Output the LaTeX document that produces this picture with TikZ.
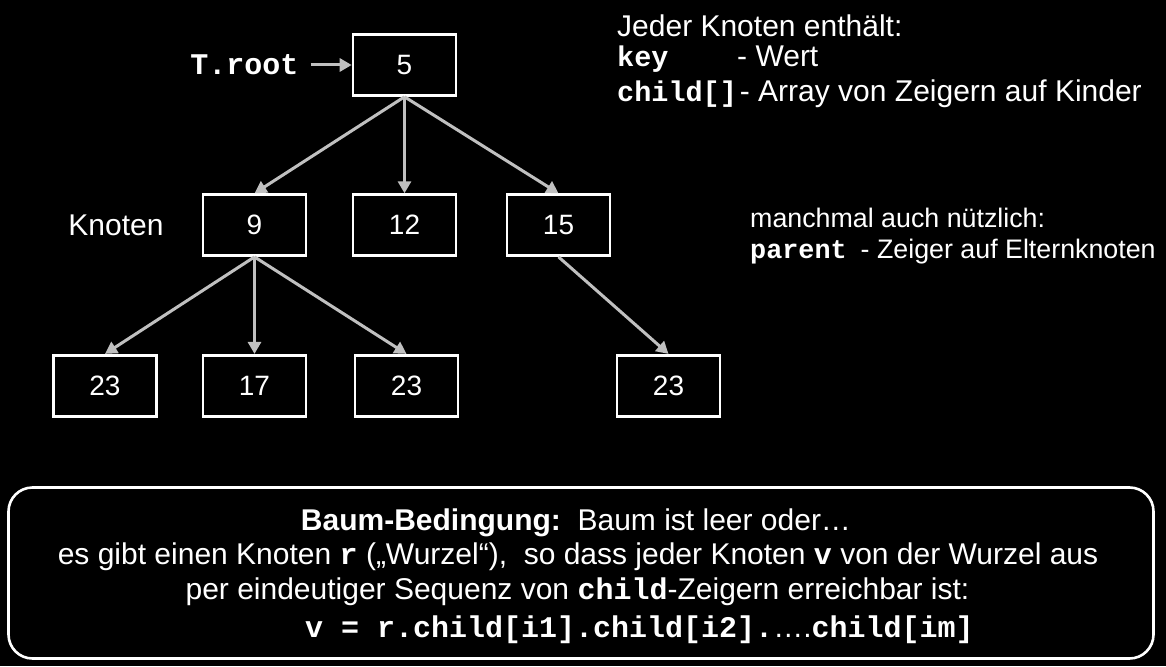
\documentclass[tikz,border=0pt]{standalone}
\usepackage{fontspec}
\setmainfont{Liberation Sans}
\setmonofont{Liberation Mono}
\usetikzlibrary{positioning,arrows.meta}

\definecolor{edgegray}{RGB}{192,192,192}
\newcommand{\code}[1]{\texttt{\bfseries #1}}

\begin{document}
\begin{tikzpicture}[
    x=1pt, y=-1pt,
    font=\fontsize{30}{36}\selectfont, text=white,
    key/.style={draw=white, line width=2.6pt, minimum width=103pt,
                minimum height=61pt, inner sep=0pt,
                font=\fontsize{28}{34}\selectfont},
    ptr/.style={draw=edgegray, line width=3pt,
                -{Triangle[length=12pt,width=13pt]}},
    note/.style={anchor=base west, inner sep=0pt},
    small/.style={note, font=\fontsize{26.8}{32}\selectfont},
    cond/.style={draw=white, line width=2.6pt, rounded corners=24pt},
  ]
  \useasboundingbox (0,0) rectangle (1166,666);
  \fill[black] (0,0) rectangle (1166,666);

  % ---------------------------------------------------------------
  % Tree of key boxes
  % ---------------------------------------------------------------
  \node[key] (k5) at (404.5,65) {5};
  \node[key, below=96.5pt of k5] (k12) {12};
  \node[key, below=96.5pt of k5, xshift=-150pt] (k9) {9};
  \node[key, below=96.5pt of k5, xshift=154pt] (k15) {15};
  \node[key, below=97pt of k9, xshift=-149.5pt] (k23a) {23};
  \node[key, below=97pt of k9] (k17) {17};
  \node[key, below=97pt of k9, xshift=152pt] (k23b) {23};
  \node[key, below=97pt of k15, xshift=110pt] (k23c) {23};

  \draw[ptr] (k5.south) -- (k9.north);
  \draw[ptr] (k5.south) -- (k12.north);
  \draw[ptr] (k5.south) -- (k15.north);
  \draw[ptr] (k9.south) -- (k23a.north);
  \draw[ptr] (k9.south) -- (k17.north);
  \draw[ptr] (k9.south) -- (k23b.north);
  \draw[ptr] (k15.south) -- (k23c.north);

  % root pointer and label
  \node[left=41pt of k5, inner sep=12pt,
        font=\fontsize{30}{36}\selectfont\ttfamily\bfseries] (troot) {T.root};
  \draw[ptr] (troot) -- (k5);
  \node[left=38pt of k9, inner sep=0pt] (lbl) {Knoten};

  % ---------------------------------------------------------------
  % Node contents (right side)
  % ---------------------------------------------------------------
  \node[note] (info1) at (617,37) {Jeder Knoten enthält:};
  \node[note] (info2) at (617,67)
    {\makebox[120pt][l]{\fontsize{28.5}{34}\selectfont\code{key}}- Wert};
  \node[note] (info3) at (617,102)
    {{\fontsize{28.5}{34}\selectfont\code{child[]}}\hspace{3pt}- Array von Zeigern auf Kinder};

  \node[small] (extra1) at (750,227) {manchmal auch nützlich:};
  \node[small] (extra2) at (750,258)
    {\code{parent}\hspace{14pt}- Zeiger auf Elternknoten};

  % ---------------------------------------------------------------
  % Tree condition
  % ---------------------------------------------------------------
  \node[cond, minimum width=1145pt, minimum height=171pt] (condbox)
    at (581,573) {};
  \node[anchor=base] (cond1) at (576,530)
    {\textbf{Baum-Bedingung:}\ \ Baum ist leer oder…};
  \node[anchor=base] (cond2) at (578,564)
    {es gibt einen Knoten \code{r} („Wurzel“),\ \ so dass jeder Knoten \code{v} von der Wurzel aus};
  \node[anchor=base] (cond3) at (577.5,599)
    {per eindeutiger Sequenz von \code{child}-Zeigern erreichbar ist:};
  \node[anchor=base west, inner sep=0pt] (cond4) at (305,637)
    {\code{v = r.child[i1].child[i2].}….\code{child[im]}};
\end{tikzpicture}
\end{document}
